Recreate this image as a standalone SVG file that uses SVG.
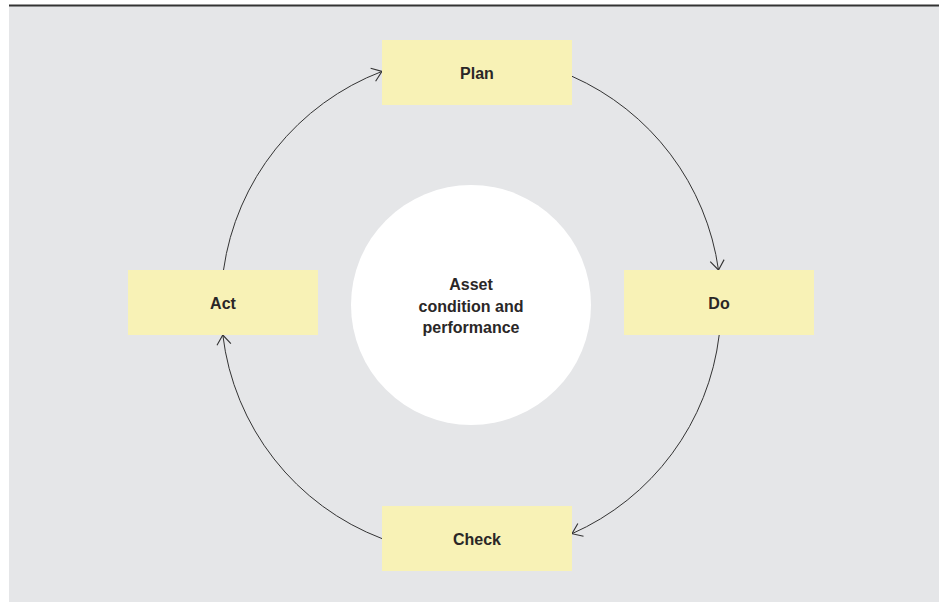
<svg xmlns="http://www.w3.org/2000/svg" width="939" height="602" viewBox="0 0 939 602">
  <style>
    .box { fill: #f8f2b6; }
    .lbl { font-family: "Liberation Sans", Arial, sans-serif; font-size: 16px; font-weight: bold; fill: #2a2727; text-anchor: middle; }
    .conn { fill: none; stroke: #333333; stroke-width: 1; }
  </style>
  <defs>
    <marker id="arrow" markerUnits="userSpaceOnUse" markerWidth="18" markerHeight="18" viewBox="-12 -9 14 18" refX="0" refY="0" orient="auto">
      <path d="M-9.5,-7 L0,0 L-9.5,7" fill="none" stroke="#333333" stroke-width="1.1"/>
    </marker>
  </defs>
  <rect x="0" y="0" width="939" height="602" fill="#ffffff"/>
  <rect x="9" y="6" width="930" height="596" fill="#e5e6e8"/>
  <line x1="9" y1="5.5" x2="939" y2="5.5" stroke="#333333" stroke-width="2"/>

  <g id="center">
    <circle cx="471" cy="305" r="120" fill="#ffffff"/>
    <text class="lbl" x="471" y="290">Asset</text>
    <text class="lbl" x="471" y="311.5">condition and</text>
    <text class="lbl" x="471" y="332.5">performance</text>
  </g>

  <g id="connectors">
    <path class="conn" marker-end="url(#arrow)" d="M223.5,270 A250,250 0 0 1 382,71.4"/>
    <path class="conn" marker-end="url(#arrow)" d="M572,76.3 A250,250 0 0 1 718.5,270"/>
    <path class="conn" marker-end="url(#arrow)" d="M719.2,335 A250,250 0 0 1 572,533.7"/>
    <path class="conn" marker-end="url(#arrow)" d="M382,538.6 A250,250 0 0 1 222.8,335"/>
  </g>

  <g id="plan">
    <rect class="box" x="382" y="40" width="190" height="65"/>
    <text class="lbl" x="477" y="79">Plan</text>
  </g>
  <g id="do">
    <rect class="box" x="624" y="270" width="190" height="65"/>
    <text class="lbl" x="719" y="309">Do</text>
  </g>
  <g id="check">
    <rect class="box" x="382" y="506" width="190" height="65"/>
    <text class="lbl" x="477" y="545">Check</text>
  </g>
  <g id="act">
    <rect class="box" x="128" y="270" width="190" height="65"/>
    <text class="lbl" x="223" y="309">Act</text>
  </g>
</svg>
